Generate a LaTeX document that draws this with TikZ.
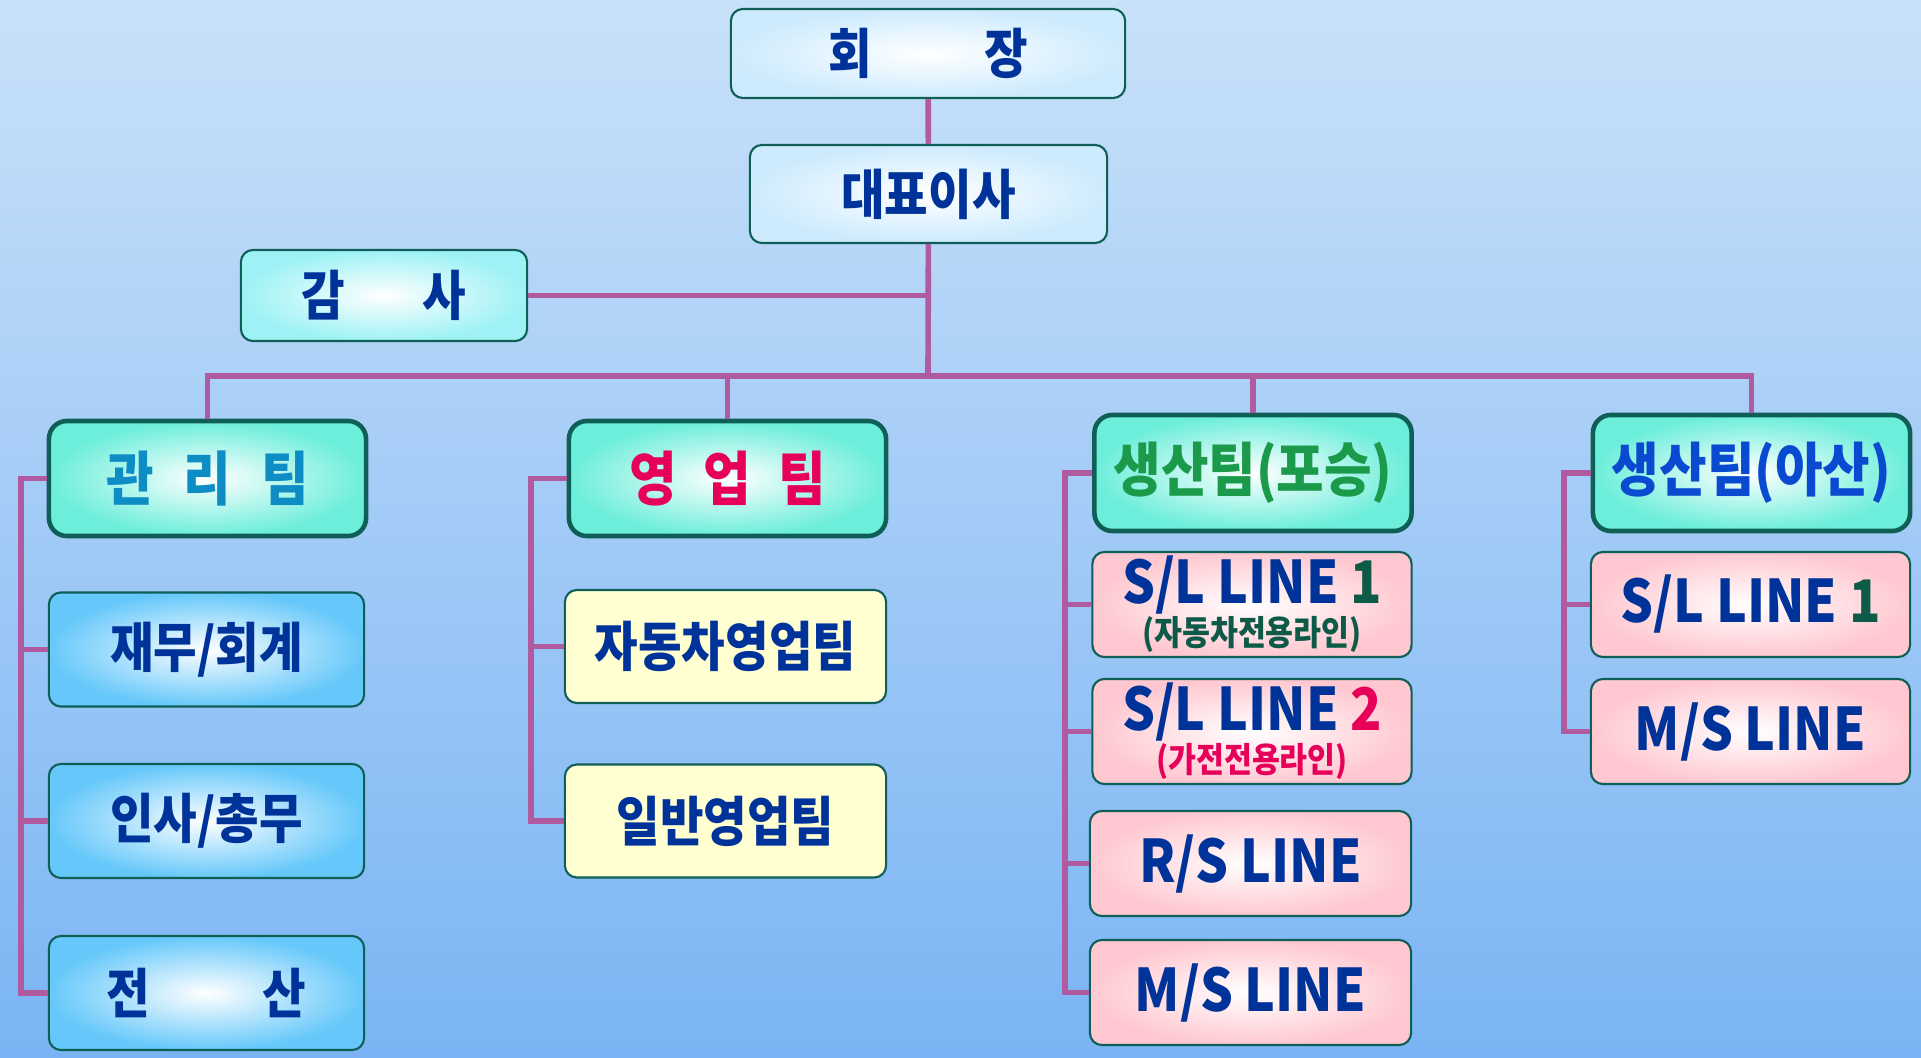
\documentclass[tikz,border=0pt]{standalone}
\usepackage{fontspec}
\setmainfont{Noto Sans CJK KR}[FakeStretch=0.88]
\usepackage{xcolor}
\usepackage{tikz}
\usetikzlibrary{calc}
\definecolor{bg_top}{HTML}{C9E1F9}
\definecolor{bg_bot}{HTML}{7AB4F4}
\definecolor{edge_col}{HTML}{0F5F57}
\definecolor{link_col}{HTML}{B05AA0}
\definecolor{txt_blue}{HTML}{003399}
\definecolor{txt_cyan}{HTML}{0E8CC4}
\definecolor{txt_red}{HTML}{E6005A}
\definecolor{txt_green}{HTML}{1A9A4A}
\definecolor{txt_dkgreen}{HTML}{0E5A48}
\definecolor{txt_head}{HTML}{0A4AD0}
\definecolor{fill_top}{HTML}{CDEBFD}
\definecolor{fill_audit}{HTML}{9EF2F5}
\definecolor{fill_head}{HTML}{6CEEDA}
\definecolor{fill_mgmt}{HTML}{66C8FA}
\definecolor{fill_sales}{HTML}{FFFFD2}
\definecolor{fill_prod}{HTML}{FFC8D0}
\tikzset{ base_box/.style = {rectangle, rounded corners=0.12cm, draw=edge_col, line width=0.6pt, text=txt_blue, align=center, font=\bfseries\fontsize{15.3}{16}\selectfont} }
\tikzset{ top_box/.style = {base_box, inner color=white, outer color=fill_top} }
\tikzset{ audit_box/.style = {base_box, inner color=white, outer color=fill_audit, minimum width=2.86cm, minimum height=0.91cm} }
\tikzset{ team_box/.style = {base_box, rounded corners=0.18cm, line width=1.3pt, inner color=white, outer color=fill_head, minimum width=3.17cm, minimum height=1.15cm, font=\bfseries\fontsize{16.7}{17}\selectfont} }
\tikzset{ mgmt_box/.style = {base_box, inner color=white, outer color=fill_mgmt, minimum width=3.15cm, minimum height=1.14cm} }
\tikzset{ sales_box/.style = {base_box, fill=fill_sales, minimum width=3.21cm, minimum height=1.13cm} }
\tikzset{ prod_box/.style = {base_box, inner color=white, outer color=fill_prod, minimum width=3.19cm, minimum height=1.05cm, inner ysep=0pt, font=\bfseries\fontsize{16.7}{12}\selectfont} }
\tikzset{ org_line/.style = {draw=link_col, line width=1.6pt} }
\newcommand{\subline}[2]{{\fontsize{9.8}{10}\selectfont\color{#1}#2}}

\begin{document}
\begin{tikzpicture}[x=0.01cm, y=-0.01cm]
    \fill[top color=bg_top, bottom color=bg_bot] (0,0) rectangle (1921,1058);
    \useasboundingbox (0,0) rectangle (1921,1058);

    \node[top_box, minimum width=3.94cm, minimum height=0.89cm] (hoe) at (928, 53.5) {회\hspace{1.12cm}장};
    \node[top_box, minimum width=3.57cm, minimum height=0.98cm] (ceo) at (928.5, 194) {대표이사};
    \node[audit_box] (audit) at (384, 295.5) {감\hspace{0.77cm}사};

    \node[team_box, text=txt_cyan] (mgmt) at (207.5, 478.5) {관\hspace{0.3cm}리\hspace{0.3cm}팀};
    \node[team_box, text=txt_red] (sales) at (727.5, 478.5) {영\hspace{0.27cm}업\hspace{0.27cm}팀};
    \node[team_box, text=txt_green, minimum height=1.16cm] (prodP) at (1253, 473) {생산팀(포승)};
    \node[team_box, text=txt_head, minimum height=1.16cm] (prodA) at (1751.5, 473) {생산팀(아산)};

    \node[mgmt_box] (fin) at (206.5, 649.5) {재무/회계};
    \node[mgmt_box] (hr) at (206.5, 821) {인사/총무};
    \node[mgmt_box] (it) at (206.5, 993) {전\hspace{1.12cm}산};

    \node[sales_box] (auto) at (725.5, 646.5) {자동차영업팀};
    \node[sales_box] (gen) at (725.5, 821) {일반영업팀};

    \node[prod_box] (slP1) at (1252, 604.5) {S/L LINE {\color{txt_dkgreen}1}\\\subline{txt_dkgreen}{(자동차전용라인)}};
    \node[prod_box] (slP2) at (1252, 731.5) {S/L LINE {\color{txt_red}2}\\\subline{txt_red}{(가전전용라인)}};
    \node[prod_box, minimum width=3.21cm] (rsP) at (1250.5, 863.5) {R/S LINE};
    \node[prod_box, minimum width=3.21cm] (msP) at (1250.5, 992.5) {M/S LINE};

    \node[prod_box] (slA1) at (1750.5, 604.5) {S/L LINE {\color{txt_dkgreen}1}};
    \node[prod_box] (msA) at (1750.5, 731.5) {M/S LINE};

    \coordinate (bus) at (928, 376);
    \draw[org_line] (hoe) -- (ceo);
    \draw[org_line] (ceo) -- (bus);
    \draw[org_line] (audit.east) -- (audit.east -| bus);
    \draw[org_line] (mgmt.north) |- (bus) -| (prodA.north);
    \draw[org_line] (sales.north) -- (sales.north |- bus);
    \draw[org_line] (prodP.north) -- (prodP.north |- bus);

    \coordinate (m_sp) at (21, 478.5);
    \draw[org_line] (mgmt.west) -- (m_sp) |- (it.west);
    \foreach \n in {fin, hr} \draw[org_line] (m_sp |- \n.west) -- (\n.west);

    \coordinate (s_sp) at (531, 478.5);
    \draw[org_line] (sales.west) -- (s_sp) |- (gen.west);
    \draw[org_line] (s_sp |- auto.west) -- (auto.west);

    \coordinate (p_sp) at (1065, 473);
    \draw[org_line] (prodP.west) -- (p_sp) |- (msP.west);
    \foreach \n in {slP1, slP2, rsP} \draw[org_line] (p_sp |- \n.west) -- (\n.west);

    \coordinate (a_sp) at (1564, 473);
    \draw[org_line] (prodA.west) -- (a_sp) |- (msA.west);
    \draw[org_line] (a_sp |- slA1.west) -- (slA1.west);
\end{tikzpicture}
\end{document}
